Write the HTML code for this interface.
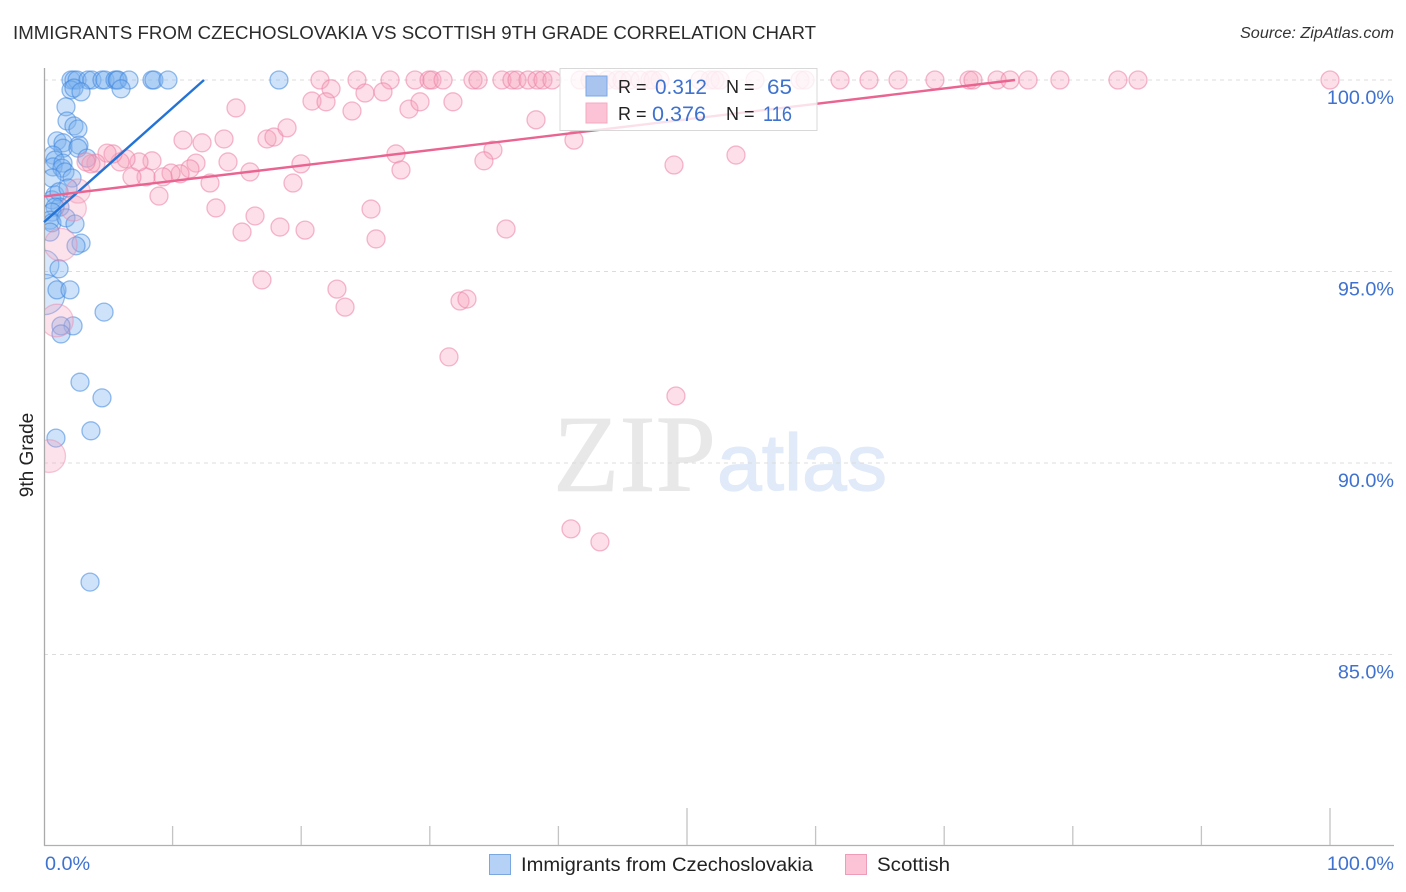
<!DOCTYPE html>
<html lang="en">
<head>
<meta charset="utf-8">
<title>Immigrants from Czechoslovakia vs Scottish 9th Grade Correlation Chart</title>
<style>
html,body{margin:0;padding:0;background:#fff;width:1406px;height:892px;overflow:hidden}
svg{display:block}
text{font-family:"Liberation Sans",sans-serif}
</style>
</head>
<body>
<svg id="chart" width="1406" height="892" viewBox="0 0 1406 892" xmlns="http://www.w3.org/2000/svg">
  <defs><clipPath id="plot-clip"><rect x="45" y="0" width="1361" height="845"/></clipPath></defs>
  <text x="13" y="39" font-size="18" fill="#2b2b2b" textLength="803" lengthAdjust="spacingAndGlyphs">IMMIGRANTS FROM CZECHOSLOVAKIA VS SCOTTISH 9TH GRADE CORRELATION CHART</text>
  <text x="1394" y="38" font-size="15.5" font-style="italic" fill="#333" text-anchor="end" textLength="154" lengthAdjust="spacingAndGlyphs">Source: ZipAtlas.com</text>
  <g>
    <text x="553" y="491" font-size="110" fill="#e8e8e8" stroke="#e8e8e8" stroke-width="0.6" style="font-family:'Liberation Serif',serif" textLength="163" lengthAdjust="spacingAndGlyphs">ZIP</text>
    <text x="717" y="490" font-size="80" fill="#e0eaf8" stroke="#e0eaf8" stroke-width="1.2" textLength="170" lengthAdjust="spacingAndGlyphs">atlas</text>
  </g>
  <g id="grid"></g>
  <g id="axes"></g>
  <g id="blue-points" clip-path="url(#plot-clip)"></g>
  <g id="pink-points" clip-path="url(#plot-clip)"></g>
  <g id="trends"></g>
  <g>
    <rect x="560" y="68.500" width="257" height="62" fill="#fff" fill-opacity="0.8" stroke="#d8d8d8" stroke-width="1"/>
    <rect x="586" y="76" width="21" height="20" fill="#a9c4ee" stroke="#7ba7e6" stroke-width="1"/>
    <rect x="586" y="103" width="21" height="20" fill="#fbc3d5" stroke="#f4a9c0" stroke-width="1"/>
    <text x="618" y="93" font-size="18" fill="#222">R =</text>
    <text x="655" y="94" font-size="21" fill="#3f72cf" textLength="52" lengthAdjust="spacingAndGlyphs">0.312</text>
    <text x="726" y="93" font-size="18" fill="#222">N =</text>
    <text x="767" y="94" font-size="21" fill="#3f72cf" textLength="25" lengthAdjust="spacingAndGlyphs">65</text>
    <text x="618" y="120" font-size="18" fill="#222">R =</text>
    <text x="652" y="121" font-size="21" fill="#3f72cf" textLength="54" lengthAdjust="spacingAndGlyphs">0.376</text>
    <text x="726" y="120" font-size="18" fill="#222">N =</text>
    <text x="763" y="121" font-size="21" fill="#3f72cf" textLength="29" lengthAdjust="spacingAndGlyphs">116</text>
  </g>
  <text transform="translate(33,455) rotate(-90)" font-size="19" fill="#222" text-anchor="middle">9th Grade</text>
  <g>
    <rect x="489.500" y="854.500" width="21" height="20" fill="#b5d2f6" stroke="#7ba7e0" stroke-width="1"/>
    <text x="521" y="871" font-size="19.500" fill="#222" textLength="292" lengthAdjust="spacingAndGlyphs">Immigrants from Czechoslovakia</text>
    <rect x="845.500" y="854.500" width="21" height="20" fill="#fcc3d6" stroke="#ee9db8" stroke-width="1"/>
    <text x="877" y="871" font-size="19.500" fill="#222" textLength="73" lengthAdjust="spacingAndGlyphs">Scottish</text>
  </g>
</svg>
<script>
const yTickValues = [100, 95, 90, 85];
const yTickLabels = ["100.0%", "95.0%", "90.0%", "85.0%"];
const xTickValues = [0, 10, 20, 30, 40, 50, 60, 70, 80, 90, 100];
const xEndLabels = ["0.0%", "100.0%"];

const blueX = [2.10,2.33,2.57,3.42,3.73,4.51,4.74,5.52,5.68,5.75,6.61,8.40,8.55,9.64,18.27,
  2.10,2.33,2.88,5.99,1.71,1.79,2.33,2.64,1.01,1.48,1.48,2.72,2.64,3.34,0.70,0.86,0.70,1.48,1.40,1.63,2.18,0.62,
  0.86,0.62,1.17,1.87,1.24,0.86,0.62,0.47,0.62,1.71,2.41,0.47,2.88,2.49,1.17,1.01,2.02,4.67,2.26,1.32,1.32,2.80,4.51,3.65,0.93,3.58];
const blueY = [100,100,100,100,100,100,100,100,100,100,100,100,100,100,100,
  99.74,99.79,99.69,99.77,99.30,98.93,98.80,98.72,98.41,98.36,98.22,98.30,98.22,97.96,98.04,97.91,97.73,97.83,97.70,97.60,97.44,97.44,
  97.00,96.87,97.08,97.18,96.68,96.68,96.55,96.34,96.27,96.40,96.24,96.03,95.74,95.67,95.07,94.52,94.52,93.94,93.58,93.58,93.37,92.11,91.70,90.84,90.65,86.89];
const blueLargeX = [0.05,0.05];
const blueLargeY = [95.18,94.40];
const blueLargeWeight = [2.5,5.0];

const pinkX = [21.46,24.34,26.91,28.85,29.94,30.17,31.03,33.36,33.75,35.61,36.39,36.78,37.64,38.34,38.80,39.50,41.68,42.46,43.78,44.56,44.95,45.57,46.35,47.12,47.36,47.90,51.01,51.79,52.18,52.57,55.29,58.79,59.18,61.90,64.15,66.41,69.28,71.93,72.24,74.11,75.12,76.52,79.00,83.51,85.07,100,
  22.32,20.84,21.93,24.96,26.36,23.95,28.38,29.24,31.80,38.26,41.21,27.37,27.76,34.91,34.21,25.43,25.82,35.93,20.30,19.98,14.93,10.81,12.29,14.00,17.34,17.88,18.90,19.36,14.31,16.02,12.91,11.82,11.35,10.58,9.88,9.25,7.93,6.84,8.40,7.39,6.38,5.91,5.37,4.90,4.04,3.65,3.27,8.94,13.37,16.41,18.35,15.40,16.95,22.78,23.41,31.49,49.14,40.98,43.23,32.35,32.89,48.99,53.81];
const pinkY = [100,100,100,100,100,100,100,100,100,100,100,100,100,100,100,100,100,100,100,100,100,100,100,100,100,100,100,100,100,100,100,100,100,100,100,100,100,100,100,100,100,100,100,100,100,100,
  99.77,99.45,99.43,99.66,99.69,99.19,99.24,99.43,99.43,98.96,98.43,98.07,97.65,98.17,97.89,96.63,95.85,96.11,96.08,97.81,99.27,98.43,98.36,98.46,98.46,98.51,98.75,97.31,97.86,97.60,97.31,97.83,97.68,97.55,97.57,97.47,97.47,97.47,97.89,97.86,97.94,97.86,98.07,98.09,97.83,97.81,97.86,96.97,96.66,96.45,96.16,96.03,94.78,94.54,94.07,92.77,91.75,88.28,87.94,94.23,94.28,97.78,98.04];
const pinkLargeX = [2.65,2.30,1.30,1.00,0.40];
const pinkLargeY = [97.10,96.65,95.70,93.72,90.18];
const pinkLargeWeight = [1.8,2.0,3.3,3.3,3.3];

const blueTrendX = [0, 12.44];
const blueTrendY = [96.29, 100];
const pinkTrendX = [0, 75.5];
const pinkTrendY = [96.96, 100];

const SVG_NS = "http://www.w3.org/2000/svg";
function xScale(v) { return 44 + v * 12.86; }
function yScale(v) { return 80 + (100 - v) * 38.3; }
function radius(w) { return 9 * Math.sqrt(w); }
function make(parent, tag, attrs, text) {
  const el = document.createElementNS(SVG_NS, tag);
  for (const k in attrs) el.setAttribute(k, attrs[k]);
  if (text !== undefined) el.textContent = text;
  document.getElementById(parent).appendChild(el);
  return el;
}

yTickValues.forEach(function (v, i) {
  const y = yScale(v);
  const g = make("grid", "line", {x1: 44, x2: 1394, y1: y, y2: y, stroke: "#dcdcdc", "stroke-width": 1, "stroke-dasharray": "4 4"});
  
  
  const t = make("axes", "text", {x: 1394, y: y + 24, "font-size": 19.8, fill: "#3f72cf", "text-anchor": "end"}, yTickLabels[i]);
  
  
});

const yAxis = make("axes", "line", {x1: 44.5, x2: 44.5, y1: 68, y2: 846, stroke: "#aaaaaa", "stroke-width": 1.3});


const xAxis = make("axes", "line", {x1: 44, x2: 1394, y1: 845.5, y2: 845.5, stroke: "#b0b0b0", "stroke-width": 1.3});



xTickValues.forEach(function (v) {
  if (v === 0) return;
  const x = xScale(v);
  const tall = v === 50 || v === 100;
  const tick = make("axes", "line", {x1: x, x2: x, y1: tall ? 808 : 826, y2: 845, stroke: "#c4c4c4", "stroke-width": 1.3});
  
  
});

const xLabelLeft = make("axes", "text", {x: 45, y: 870, "font-size": 19.8, fill: "#3f72cf"}, xEndLabels[0]);


const xLabelRight = make("axes", "text", {x: 1394, y: 870, "font-size": 19.8, fill: "#3f72cf", "text-anchor": "end"}, xEndLabels[1]);



function drawPoint(parent, x, y, w, fill, stroke, fillOpacity, strokeOpacity, name) {
  const c = make(parent, "circle", {cx: xScale(x), cy: yScale(y), r: radius(w), fill: fill, "fill-opacity": fillOpacity, stroke: stroke, "stroke-opacity": strokeOpacity, "stroke-width": 1.3});
  
  
}

blueLargeX.forEach(function (x, i) {
  drawPoint("blue-points", x, blueLargeY[i], blueLargeWeight[i], "#7fb2f0", "#4a8de0", 0.3, 0.55, "czechoslovakia-point-large");
});
blueX.forEach(function (x, i) {
  drawPoint("blue-points", x, blueY[i], 1, "#7fb2f0", "#3f86de", 0.38, 0.55, "czechoslovakia-point");
});
pinkLargeX.forEach(function (x, i) {
  drawPoint("pink-points", x, pinkLargeY[i], pinkLargeWeight[i], "#f5a0bc", "#ec7fa4", 0.3, 0.42, "scottish-point-large");
});
pinkX.forEach(function (x, i) {
  drawPoint("pink-points", x, pinkY[i], 1, "#f5a0bc", "#ec7fa4", 0.34, 0.55, "scottish-point");
});

const blueTrend = make("trends", "line", {x1: xScale(blueTrendX[0]), y1: yScale(blueTrendY[0]), x2: xScale(blueTrendX[1]), y2: yScale(blueTrendY[1]), stroke: "#2373d6", "stroke-width": 2.4});


const pinkTrend = make("trends", "line", {x1: xScale(pinkTrendX[0]), y1: yScale(pinkTrendY[0]), x2: xScale(pinkTrendX[1]), y2: yScale(pinkTrendY[1]), stroke: "#ea6491", "stroke-width": 2.4});


</script>
</body>
</html>
